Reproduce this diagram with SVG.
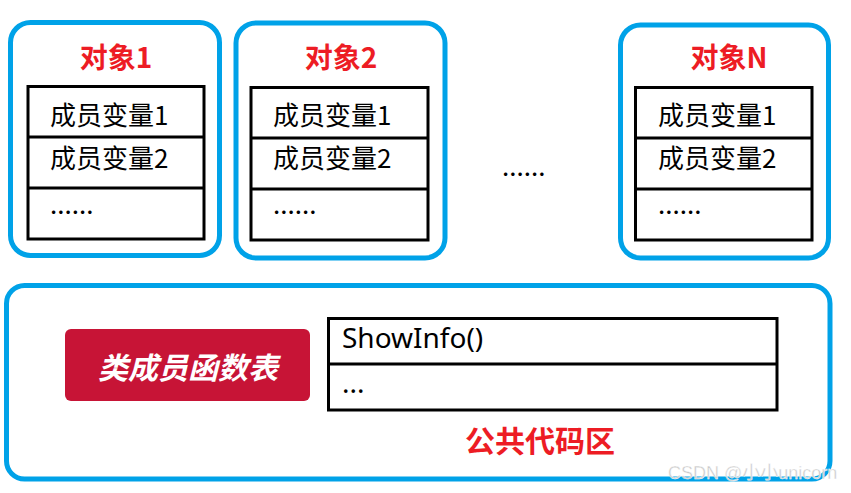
<svg xmlns="http://www.w3.org/2000/svg" width="851" height="493" viewBox="0 0 851 493">
<style>
.obj{fill:#fff;stroke:#00A2E8;stroke-width:5}
.tbl{fill:#fff;stroke:#000;stroke-width:3}
.ln{stroke:#000;stroke-width:3}
.title{font-family:"Noto Sans CJK SC","Liberation Sans",sans-serif;font-weight:bold;font-size:28px;fill:#ED1C24;text-anchor:middle}
.row{font-family:"Noto Sans CJK SC","Liberation Sans",sans-serif;font-size:26px;fill:#000}
.mono{font-family:"Noto Sans","Noto Sans CJK SC",sans-serif;font-size:28px;fill:#000}
</style>
<rect width="851" height="493" fill="#fff"/>
<g id="obj1">
<rect class="obj" x="10.5" y="22.5" width="209" height="233" rx="20"/>
<text class="title" x="116" y="68">对象1</text>
<rect class="tbl" x="28" y="86.5" width="176" height="152.5"/>
<line class="ln" x1="28" y1="137" x2="204" y2="137"/>
<line class="ln" x1="28" y1="188" x2="204" y2="188"/>
<text class="row" x="50" y="125">成员变量1</text>
<text class="row" x="50" y="168">成员变量2</text>
<text class="row" x="50" y="214">......</text>
</g>
<g id="obj2">
<rect class="obj" x="236" y="23" width="209" height="235" rx="20"/>
<text class="title" x="341" y="68">对象2</text>
<rect class="tbl" x="251" y="87.5" width="177" height="152.5"/>
<line class="ln" x1="251" y1="138" x2="428" y2="138"/>
<line class="ln" x1="251" y1="189" x2="428" y2="189"/>
<text class="row" x="273" y="125">成员变量1</text>
<text class="row" x="273" y="168">成员变量2</text>
<text class="row" x="273" y="214">......</text>
</g>
<text id="dots" class="row" x="502" y="176">......</text>
<g id="objN">
<rect class="obj" x="620.5" y="25" width="208" height="233" rx="20"/>
<text class="title" x="729" y="68">对象N</text>
<rect class="tbl" x="635.5" y="87.5" width="176.5" height="152.5"/>
<line class="ln" x1="635.5" y1="138" x2="812" y2="138"/>
<line class="ln" x1="635.5" y1="189" x2="812" y2="189"/>
<text class="row" x="658" y="125">成员变量1</text>
<text class="row" x="658" y="168">成员变量2</text>
<text class="row" x="658" y="214">......</text>
</g>
<g id="common">
<rect class="obj" x="6.5" y="285.5" width="823.5" height="193.5" rx="18"/>
<rect x="65" y="329" width="245" height="72" rx="6" fill="#C71436"/>
<text x="188" y="379" font-family="Noto Sans CJK SC,sans-serif" font-weight="bold" font-style="italic" font-size="30" fill="#fff" text-anchor="middle">类成员函数表</text>
<rect class="tbl" x="328.5" y="318.5" width="448.5" height="91.5"/>
<line class="ln" x1="328.5" y1="364" x2="777" y2="364"/>
<text class="mono" x="342" y="348">ShowInfo()</text>
<text class="mono" x="342" y="393">...</text>
<text class="title" x="540" y="452" style="font-size:30px">公共代码区</text>
</g>
<text id="watermark" x="668" y="479" font-family="Liberation Sans,Noto Sans CJK SC,sans-serif" font-size="18" fill="#c8c8c8" stroke="#fff" stroke-width="0.4">CSDN @小小unicorn</text>
</svg>
